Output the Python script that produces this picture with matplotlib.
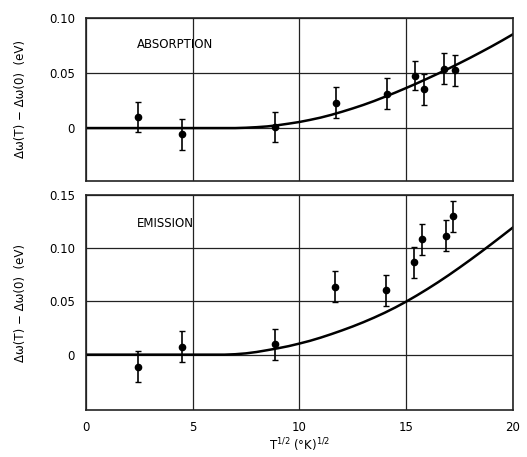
import matplotlib
matplotlib.use("Agg")
import matplotlib.pyplot as plt

# absorption data
abs_x = [2.43, 4.5, 8.85, 11.7, 14.1, 15.4, 15.86, 16.8, 17.3]
abs_y = [0.010, -0.0055, 0.001, 0.023, 0.031, 0.0475, 0.035, 0.054, 0.0525]
abs_err = [0.0135, 0.014, 0.014, 0.014, 0.014, 0.013, 0.014, 0.014, 0.014]

# emission data
emi_x = [2.43, 4.5, 8.85, 11.67, 14.06, 15.36, 15.74, 16.85, 17.2]
emi_y = [-0.0113, 0.0073, 0.0097, 0.064, 0.0607, 0.087, 0.1085, 0.112, 0.130]
emi_err = [0.0145, 0.0145, 0.0145, 0.0145, 0.0145, 0.0145, 0.0145, 0.0145, 0.0145]

# theory curves
abs_cx = [0, 7, 7.5, 8, 8.5, 9, 9.5, 10, 10.5, 11, 11.5, 12, 12.5, 13, 13.5,
          14, 14.5, 15, 15.5, 16, 16.5, 17, 17.5, 18, 18.5, 19, 19.5, 20]
abs_cy = [0, 0, 0.0003, 0.0008, 0.0015, 0.0026, 0.004, 0.0055, 0.0074, 0.0095,
          0.012, 0.0148, 0.0178, 0.021, 0.0245, 0.0283, 0.0322, 0.0363,
          0.0405, 0.0449, 0.0494, 0.054, 0.0588, 0.0637, 0.0688, 0.074,
          0.0794, 0.085]
emi_cx = [0, 6.5, 7, 7.5, 8, 8.5, 9, 9.5, 10, 10.5, 11, 11.5, 12, 12.5, 13,
          13.5, 14, 14.5, 15, 15.5, 16, 16.5, 17, 17.5, 18, 18.5, 19, 19.5, 20]
emi_cy = [0, 0, 0.0004, 0.0012, 0.0025, 0.0042, 0.006, 0.008, 0.0104, 0.013,
          0.016, 0.0193, 0.0228, 0.0265, 0.0305, 0.0348, 0.0394, 0.0444,
          0.0498, 0.0556, 0.0617, 0.0681, 0.0748, 0.0818, 0.089, 0.0964,
          0.104, 0.1117, 0.1195]

xticks = [0, 5, 10, 15, 20]
abs_yticks = [0, 0.05, 0.10]
abs_ylabels = ["0", "0.05", "0.10"]
emi_yticks = [0, 0.05, 0.10, 0.15]
emi_ylabels = ["0", "0.05", "0.10", "0.15"]

plt.rcParams['font.family'] = ['DejaVu Sans']
fig = plt.figure(figsize=(5.27, 4.57), dpi=100)
ax1 = fig.add_axes([0.163, 0.604, 0.810, 0.357])
ax2 = fig.add_axes([0.163, 0.103, 0.810, 0.470])

ylab = "Δω(T) − Δω(0)  (eV)"


def style(ax, yticks, ylabels, ylim):
    ax.set_xlim(0, 20)
    ax.set_ylim(*ylim)
    ax.set_yticks(yticks)
    ax.set_yticklabels(ylabels, fontsize=8.5)
    ax.set_xticks(xticks)
    ax.tick_params(length=0, pad=8)
    ax.grid(True, color='#222222', linewidth=0.9)
    ax.set_axisbelow(True)
    for s in ax.spines.values():
        s.set_linewidth(1.2)
        s.set_color('#222222')
    ax.set_ylabel(ylab, fontsize=8.5, labelpad=16)


style(ax1, abs_yticks, abs_ylabels, (-0.048, 0.10))
ax1.set_xticklabels([])
ax1.plot(abs_cx, abs_cy, color='black', linewidth=1.8)
ax1.errorbar(abs_x, abs_y, yerr=abs_err, fmt='o', color='black',
             markersize=4.5, elinewidth=1.2, capsize=2, capthick=1.0)
ax1.text(2.4, 0.073, "ABSORPTION", fontsize=8.5)

style(ax2, emi_yticks, emi_ylabels, (-0.052, 0.15))
ax2.set_xticklabels([str(v) for v in xticks], fontsize=8.5)
ax2.plot(emi_cx, emi_cy, color='black', linewidth=1.8)
ax2.errorbar(emi_x, emi_y, yerr=emi_err, fmt='o', color='black',
             markersize=4.5, elinewidth=1.2, capsize=2, capthick=1.0)
ax2.text(2.4, 0.120, "EMISSION", fontsize=8.5)
ax2.set_xlabel("T$^{1/2}$ (°K)$^{1/2}$", fontsize=8.5, labelpad=2)

fig.savefig("out.png", dpi=100)
